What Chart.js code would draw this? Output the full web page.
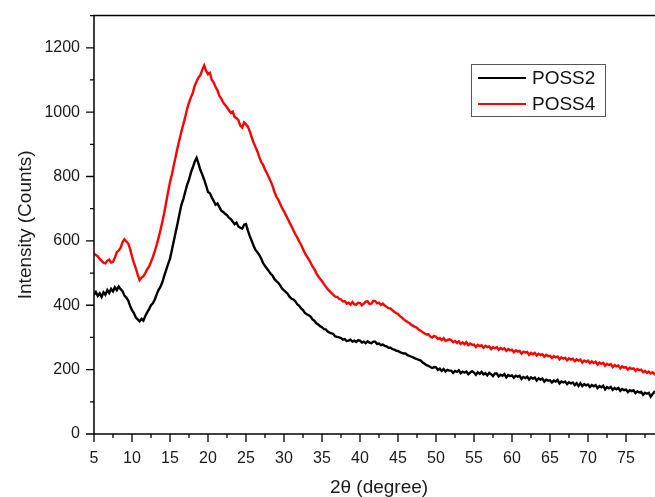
<!DOCTYPE html>
<html>
<head>
<meta charset="utf-8">
<script src="https://cdn.jsdelivr.net/npm/chart.js@4.4.1/dist/chart.umd.min.js"></script>
<style>
  html, body { margin: 0; padding: 0; background: #fff; overflow: hidden; }
  #wrap { width: 680px; height: 497px; }
</style>
</head>
<body>
<div id="wrap"><canvas id="xrd" width="680" height="497"></canvas></div>
<script>
// 2-theta sampling positions (degree)
const twoTheta = [
  5, 5.25, 5.5, 5.75, 6, 6.25, 6.5, 6.75, 7, 7.25, 7.5, 7.75, 8, 8.25, 8.5, 8.75, 9, 9.25, 9.5, 9.75,
  10, 10.25, 10.5, 10.75, 11, 11.25, 11.5, 11.75, 12, 12.25, 12.5, 12.75, 13, 13.25, 13.5, 13.75, 14, 14.25, 14.5, 14.75,
  15, 15.25, 15.5, 15.75, 16, 16.25, 16.5, 16.75, 17, 17.25, 17.5, 17.75, 18, 18.25, 18.5, 18.75, 19, 19.25, 19.5, 19.75,
  20, 20.25, 20.5, 20.75, 21, 21.25, 21.5, 21.75, 22, 22.25, 22.5, 22.75, 23, 23.25, 23.5, 23.75, 24, 24.25, 24.5, 24.75,
  25, 25.25, 25.5, 25.75, 26, 26.25, 26.5, 26.75, 27, 27.25, 27.5, 27.75, 28, 28.25, 28.5, 28.75, 29, 29.25, 29.5, 29.75,
  30, 30.25, 30.5, 30.75, 31, 31.25, 31.5, 31.75, 32, 32.25, 32.5, 32.75, 33, 33.25, 33.5, 33.75, 34, 34.25, 34.5, 34.75,
  35, 35.25, 35.5, 35.75, 36, 36.25, 36.5, 36.75, 37, 37.25, 37.5, 37.75, 38, 38.25, 38.5, 38.75, 39, 39.25, 39.5, 39.75,
  40, 40.25, 40.5, 40.75, 41, 41.25, 41.5, 41.75, 42, 42.25, 42.5, 42.75, 43, 43.25, 43.5, 43.75, 44, 44.25, 44.5, 44.75,
  45, 45.25, 45.5, 45.75, 46, 46.25, 46.5, 46.75, 47, 47.25, 47.5, 47.75, 48, 48.25, 48.5, 48.75, 49, 49.25, 49.5, 49.75,
  50, 50.25, 50.5, 50.75, 51, 51.25, 51.5, 51.75, 52, 52.25, 52.5, 52.75, 53, 53.25, 53.5, 53.75, 54, 54.25, 54.5, 54.75,
  55, 55.25, 55.5, 55.75, 56, 56.25, 56.5, 56.75, 57, 57.25, 57.5, 57.75, 58, 58.25, 58.5, 58.75, 59, 59.25, 59.5, 59.75,
  60, 60.25, 60.5, 60.75, 61, 61.25, 61.5, 61.75, 62, 62.25, 62.5, 62.75, 63, 63.25, 63.5, 63.75, 64, 64.25, 64.5, 64.75,
  65, 65.25, 65.5, 65.75, 66, 66.25, 66.5, 66.75, 67, 67.25, 67.5, 67.75, 68, 68.25, 68.5, 68.75, 69, 69.25, 69.5, 69.75,
  70, 70.25, 70.5, 70.75, 71, 71.25, 71.5, 71.75, 72, 72.25, 72.5, 72.75, 73, 73.25, 73.5, 73.75, 74, 74.25, 74.5, 74.75,
  75, 75.25, 75.5, 75.75, 76, 76.25, 76.5, 76.75, 77, 77.25, 77.5, 77.75, 78, 78.25, 78.5, 78.75, 79, 79.25, 79.5, 79.75,
  80
];

// intensity (counts), one row per 5 degrees
const poss2 = [
  432, 441, 429, 437, 426, 440, 433, 447, 438, 451, 443, 456, 447, 458, 450, 444, 430, 424, 415, 398,
  385, 376, 362, 356, 350, 358, 352, 367, 378, 388, 400, 406, 418, 434, 448, 458, 472, 492, 510, 528,
  545, 572, 600, 628, 655, 684, 712, 730, 752, 774, 790, 812, 828, 846, 858, 840, 820, 806, 790, 772,
  752, 748, 735, 724, 712, 716, 705, 694, 690, 684, 680, 672, 668, 660, 652, 657, 645, 641, 638, 650,
  652, 632, 615, 600, 585, 572, 565, 556, 545, 531, 522, 514, 506, 498, 492, 481, 475, 470, 462, 452,
  446, 441, 435, 426, 420, 418, 412, 403, 398, 390, 385, 376, 372, 369, 365, 356, 352, 344, 340, 335,
  332, 326, 325, 318, 315, 313, 310, 303, 302, 300, 298, 293, 295, 289, 290, 293, 287, 290, 286, 291,
  290, 284, 287, 282, 288, 284, 282, 287, 287, 280, 281, 276, 278, 274, 272, 268, 268, 264, 262, 259,
  258, 254, 252, 250, 250, 245, 243, 240, 238, 235, 233, 230, 228, 222, 218, 214, 212, 208, 205, 208,
  207, 199, 203, 196, 202, 194, 199, 197, 197, 190, 196, 193, 198, 189, 194, 191, 194, 186, 191, 195,
  191, 184, 192, 187, 193, 185, 189, 182, 190, 186, 180, 188, 188, 179, 184, 181, 186, 176, 183, 180,
  182, 175, 181, 178, 181, 171, 177, 174, 178, 169, 176, 172, 175, 166, 173, 169, 172, 163, 169, 166,
  167, 160, 166, 163, 168, 157, 163, 160, 163, 155, 161, 157, 160, 152, 158, 149, 158, 149, 155, 151,
  154, 146, 152, 148, 152, 143, 149, 145, 150, 139, 146, 142, 146, 137, 143, 139, 143, 134, 140, 136,
  138, 130, 136, 133, 136, 127, 133, 129, 131, 122, 128, 125, 128, 116, 124, 131, 130, 121, 127, 124,
  128
];

const poss4 = [
  560, 556, 552, 544, 538, 532, 530, 538, 542, 533, 535, 548, 565, 570, 578, 596, 605, 598, 592, 575,
  552, 532, 515, 495, 478, 486, 490, 500, 512, 520, 535, 550, 568, 588, 610, 634, 660, 688, 720, 752,
  783, 806, 835, 862, 890, 915, 940, 962, 985, 1010, 1030, 1046, 1060, 1082, 1095, 1108, 1115, 1132, 1145, 1128,
  1118, 1122, 1100, 1092, 1078, 1068, 1050, 1042, 1030, 1022, 1015, 1006, 998, 1002, 985, 981, 975, 958, 952, 968,
  962, 955, 940, 922, 905, 892, 878, 860, 845, 836, 822, 810, 798, 785, 770, 752, 737, 728, 715, 702,
  692, 680, 668, 656, 645, 632, 620, 610, 598, 588, 575, 562, 552, 543, 532, 521, 512, 500, 490, 482,
  475, 466, 458, 450, 444, 438, 432, 427, 426, 420, 418, 412, 413, 405, 408, 402, 410, 403, 402, 408,
  407, 400, 405, 411, 412, 404, 405, 414, 413, 406, 408, 401, 405, 399, 395, 391, 390, 385, 380, 376,
  373, 366, 362, 356, 352, 348, 345, 339, 336, 333, 330, 324, 321, 316, 312, 309, 310, 303, 300, 305,
  302, 295, 298, 292, 298, 289, 292, 294, 292, 285, 289, 283, 288, 280, 285, 279, 285, 276, 281, 277,
  278, 270, 277, 273, 276, 268, 274, 270, 272, 264, 270, 266, 270, 262, 267, 263, 266, 258, 264, 260,
  262, 254, 260, 256, 258, 250, 256, 253, 255, 246, 252, 248, 252, 244, 249, 245, 248, 240, 246, 242,
  243, 236, 242, 238, 241, 232, 238, 234, 237, 229, 235, 231, 234, 226, 232, 228, 231, 222, 228, 224,
  228, 220, 226, 221, 225, 216, 222, 218, 221, 212, 218, 214, 217, 208, 214, 210, 213, 204, 210, 206,
  208, 200, 206, 202, 204, 196, 202, 198, 200, 192, 196, 190, 194, 188, 192, 186, 192, 186, 190, 185,
  190
];

const seriesNames = ['POSS2', 'POSS4'];
const seriesColors = ['#000000', '#ff0000'];
const xTitle = '2θ (degree)';
const yTitle = 'Intensity (Counts)';

const fontFamily = '"Liberation Sans", Arial, sans-serif';

// tick marks, frame and the inset legend
const frameTicks = {
    id: 'frameTicks',
    afterDraw: function (chart) {
        const ctx = chart.ctx;
        const a = chart.chartArea;
        const xs = chart.scales.x;
        const ys = chart.scales.y;
        ctx.save();
        ctx.strokeStyle = '#000';
        ctx.lineWidth = 1.5;
        ctx.beginPath();
        ctx.moveTo(a.left, a.bottom);
        ctx.lineTo(a.left, a.top);
        ctx.lineTo(a.right, a.top);
        ctx.lineTo(a.right, a.bottom);
        ctx.closePath();
        ctx.stroke();

        ctx.lineWidth = 1.3;
        ctx.beginPath();
        xs.ticks.forEach(t => {
            const px = xs.getPixelForValue(t.value);
            const len = t.value % 5 === 0 ? 8 : 4;
            ctx.moveTo(px, a.bottom);
            ctx.lineTo(px, a.bottom + len);
        });
        ys.ticks.forEach(t => {
            const py = ys.getPixelForValue(t.value);
            const len = t.value % 200 === 0 ? 8 : 4;
            ctx.moveTo(a.left, py);
            ctx.lineTo(a.left - len, py);
        });
        ctx.stroke();

        // legend box
        const bx = 471, by = 64, bw = 134, bh = 52;
        ctx.fillStyle = '#fff';
        ctx.fillRect(bx, by, bw, bh);
        ctx.strokeStyle = '#555';
        ctx.lineWidth = 1;
        ctx.strokeRect(bx + 0.5, by + 0.5, bw, bh);
        ctx.font = '19px ' + fontFamily;
        ctx.textBaseline = 'middle';
        ctx.textAlign = 'left';
        chart.data.datasets.forEach((ds, i) => {
            const ly = by + 14 + i * 26;
            ctx.strokeStyle = ds.borderColor;
            ctx.lineWidth = 2;
            ctx.beginPath();
            ctx.moveTo(bx + 7, ly);
            ctx.lineTo(bx + 55, ly);
            ctx.stroke();
            ctx.fillStyle = '#111';
            ctx.fillText(ds.label, bx + 61, ly + 1);
        });
        ctx.restore();
    }
};

const makePoints = (ys) => twoTheta.map((x, i) => ({ x: x, y: ys[i] }));

new Chart(document.getElementById('xrd').getContext('2d'), {
    type: 'line',
    data: {
        datasets: [
            { label: seriesNames[0], data: makePoints(poss2), borderColor: seriesColors[0] },
            { label: seriesNames[1], data: makePoints(poss4), borderColor: seriesColors[1] }
        ]
    },
    options: {
        responsive: false,
        animation: false,
        parsing: false,
        elements: {
            line: { borderWidth: 2.4, tension: 0, fill: false },
            point: { radius: 0, hoverRadius: 0 }
        },
        layout: { padding: { left: 0, top: 12, right: 16, bottom: 0 } },
        plugins: {
            legend: { display: false },
            tooltip: { enabled: false }
        },
        scales: {
            x: {
                type: 'linear',
                min: 5,
                max: 80,
                afterFit: (s) => { s.height = 63; },
                grid: { display: false, drawTicks: true, tickLength: 8 },
                border: { display: false },
                ticks: {
                    stepSize: 2.5,
                    autoSkip: false,
                    maxRotation: 0,
                    padding: 7,
                    color: '#1a1a1a',
                    font: { family: fontFamily, size: 16 },
                    callback: (v) => (v % 5 === 0 ? String(v) : '')
                },
                title: {
                    display: true,
                    text: xTitle,
                    color: '#1a1a1a',
                    font: { family: fontFamily, size: 19, lineHeight: 1 },
                    padding: { top: 0, bottom: 0 }
                }
            },
            y: {
                min: 0,
                max: 1300,
                afterFit: (s) => { s.width = 94; },
                grid: { display: false, drawTicks: true, tickLength: 8 },
                border: { display: false },
                ticks: {
                    stepSize: 100,
                    autoSkip: false,
                    padding: 6,
                    color: '#1a1a1a',
                    font: { family: fontFamily, size: 16 },
                    callback: (v) => (v % 200 === 0 ? String(v) : '')
                },
                title: {
                    display: true,
                    text: yTitle,
                    color: '#1a1a1a',
                    font: { family: fontFamily, size: 19, lineHeight: 1 },
                    padding: { top: 16, bottom: 0 }
                }
            }
        }
    },
    plugins: [frameTicks]
});
</script>
</body>
</html>
